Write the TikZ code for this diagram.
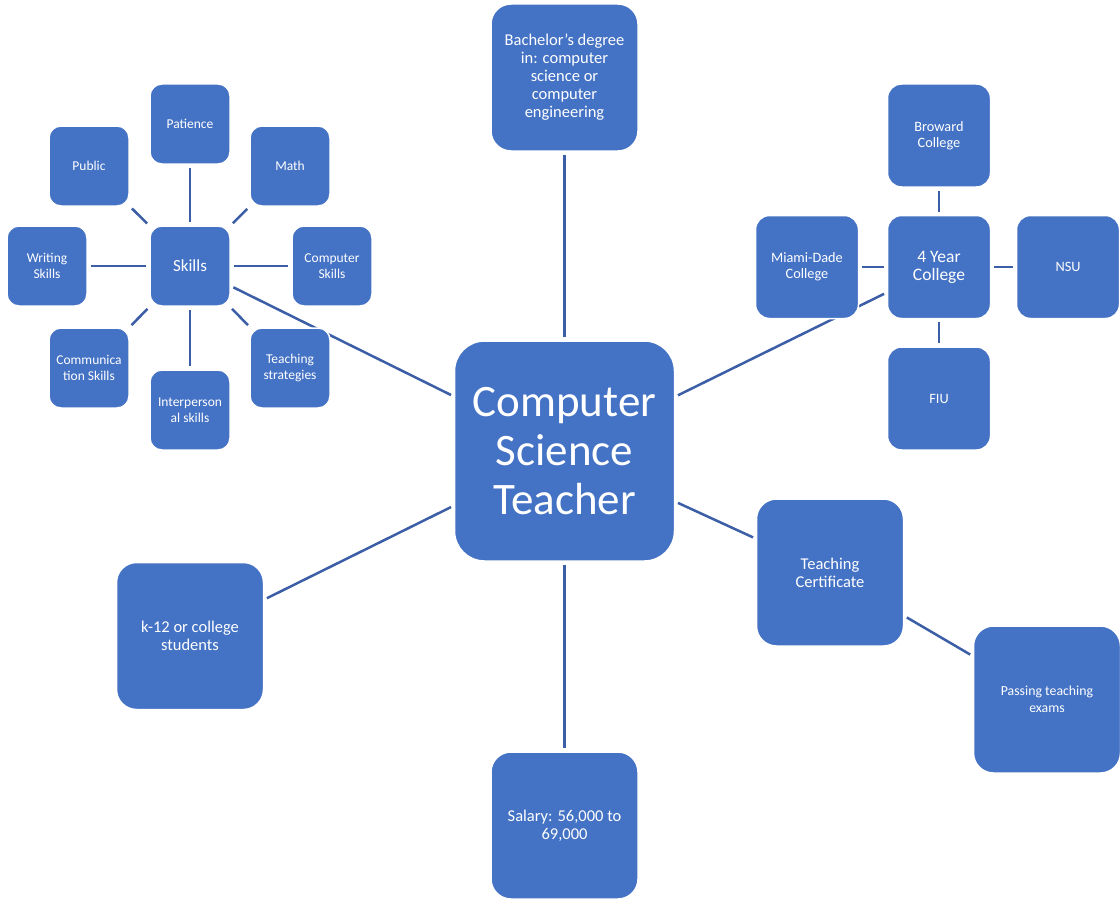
\documentclass[tikz,border=0pt]{standalone}
\usepackage{fontspec}
\setmainfont{Carlito}
\usetikzlibrary{backgrounds}
\definecolor{boxblue}{HTML}{4472C4}
\definecolor{linkblue}{HTML}{3B5EA6}
\begin{document}
\begin{tikzpicture}[x=1pt,y=-1pt,
  box/.style={draw=white,line width=1.5pt,fill=boxblue,rounded corners=#1,text=white,align=center,inner sep=0pt},
  box/.default=12pt,
  small/.style={box=12pt,minimum width=80pt,minimum height=80pt,font=\fontsize{13.5}{16}\selectfont},
  mid/.style={box=14pt,minimum width=103pt,minimum height=103pt,font=\fontsize{14.3}{16}\selectfont},
  large/.style={box=20pt,minimum width=147pt,minimum height=147pt,font=\fontsize{16.5}{18}\selectfont},
  link/.style={draw=linkblue,line width=2.5pt,shorten <=3pt,shorten >=3pt}]
\useasboundingbox (0,0) rectangle (1120,899);
% nodes
\node[box=30pt,minimum width=220pt,minimum height=220pt,font=\fontsize{45}{49}\selectfont] (cst) at (564.5,451) {Computer\\Science\\Teacher};
\node[large] (bach) at (564.5,77.5) {Bachelor's degree\\in: computer\\science or\\computer\\engineering};
\node[large] (k12) at (190,636) {k-12 or college\\students};
\node[large] (salary) at (564.5,825.5) {Salary: 56,000 to\\69,000};
\node[large] (cert) at (830,572.5) {Teaching\\Certificate};
\node[large,font=\fontsize{13.8}{17}\selectfont] (exams) at (1047,699.5) {Passing teaching\\exams};
\node[small,font=\fontsize{17}{16}\selectfont] (skills) at (190,266) {Skills};
\node[small] (patience) at (190,124) {Patience};
\node[small] (public) at (89,166) {Public};
\node[small] (math) at (290,166) {Math};
\node[small] (writing) at (47,266) {Writing\\Skills};
\node[small] (computer) at (332,266) {Computer\\Skills};
\node[small] (comm) at (89,368) {Communica\\tion Skills};
\node[small] (inter) at (190,410) {Interperson\\al skills};
\node[small] (teachstr) at (290,368) {Teaching\\strategies};
\node[mid,font=\fontsize{17.5}{18}\selectfont] (four) at (939,267) {4 Year\\College};
\node[mid] (broward) at (939,135.5) {Broward\\College};
\node[mid] (miami) at (807,267) {Miami-Dade\\College};
\node[mid] (nsu) at (1068,267) {NSU};
\node[mid] (fiu) at (939,398.5) {FIU};
% connectors (drawn behind the boxes)
\begin{pgfonlayer}{background}
\draw[link] (cst) -- (bach);
\draw[link] (cst) -- (salary);
\draw[link] (cst) -- (k12);
\draw[link] (cst) -- (cert);
\draw[link] (cert) -- (exams);
\draw[link] (cst) -- (skills);
\draw[link] (cst) -- (four);
\draw[link] (skills) -- (patience);
\draw[link] (skills) -- (public);
\draw[link] (skills) -- (math);
\draw[link] (skills) -- (writing);
\draw[link] (skills) -- (computer);
\draw[link] (skills) -- (comm);
\draw[link] (skills) -- (inter);
\draw[link] (skills) -- (teachstr);
\draw[link] (four) -- (broward);
\draw[link] (four) -- (miami);
\draw[link] (four) -- (nsu);
\draw[link] (four) -- (fiu);
\end{pgfonlayer}
\end{tikzpicture}
\end{document}
